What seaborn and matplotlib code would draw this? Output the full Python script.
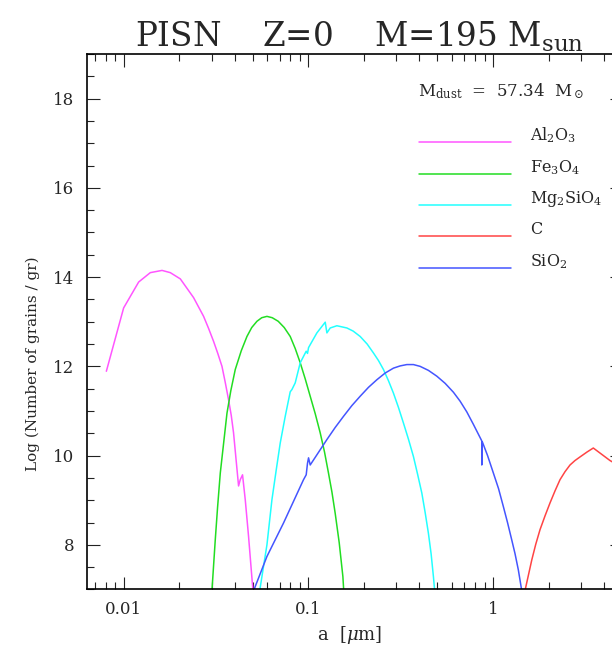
import numpy as np
import pandas as pd
import matplotlib
matplotlib.use("Agg")
import matplotlib.pyplot as plt
import seaborn as sns
from matplotlib.ticker import LogLocator, NullFormatter, MultipleLocator

# Grain size distributions, PISN with Z=0 and M=195 Msun
# grain radius a [micron] and log10(number of grains per gram) for each species
al2o3_a = [0.00806, 0.0100, 0.01206, 0.01394, 0.01614, 0.01789, 0.02027, 0.02392,
           0.02710, 0.02884, 0.03069, 0.03234, 0.03408, 0.03550, 0.03700, 0.03826,
           0.03937, 0.04191, 0.04280, 0.04404, 0.04556, 0.04747, 0.05013]
al2o3_n = [11.89, 13.31, 13.89, 14.10, 14.15, 14.10, 13.96, 13.54,
           13.12, 12.85, 12.56, 12.29, 12.00, 11.64, 11.25, 10.90,
           10.51, 9.32, 9.46, 9.57, 9.01, 8.19, 6.98]

fe3o4_a = [0.03008, 0.03134, 0.03227, 0.03337, 0.03627, 0.03803, 0.04022, 0.04335,
           0.04653, 0.04939, 0.05271, 0.05596, 0.05970, 0.06378, 0.06873, 0.07406,
           0.07981, 0.08494, 0.09041, 0.09621, 0.1024, 0.1090, 0.1160, 0.1224,
           0.1286, 0.1343, 0.1398, 0.1470, 0.1539, 0.1555]
fe3o4_n = [6.98, 8.11, 8.85, 9.61, 10.95, 11.45, 11.93, 12.35,
           12.67, 12.87, 13.01, 13.09, 13.12, 13.09, 13.01, 12.87,
           12.67, 12.40, 12.08, 11.72, 11.33, 10.94, 10.51, 10.08,
           9.61, 9.18, 8.71, 8.05, 7.29, 6.98]

mg2sio4_a = [0.05458, 0.05970, 0.06353, 0.06704, 0.07045, 0.07499, 0.07981, 0.08152,
             0.08494, 0.09041, 0.09741, 0.09901, 0.1003, 0.1113, 0.1235, 0.1261,
             0.1314, 0.1428, 0.1618, 0.1750, 0.1909, 0.2083, 0.2253, 0.2399,
             0.2552, 0.2716, 0.2891, 0.3077, 0.3275, 0.3485, 0.3709, 0.3908,
             0.4119, 0.4291, 0.4471, 0.4624, 0.4759, 0.4831]
mg2sio4_n = [6.98, 8.00, 9.01, 9.68, 10.28, 10.88, 11.43, 11.48,
             11.63, 12.08, 12.34, 12.29, 12.42, 12.75, 12.99, 12.75,
             12.86, 12.91, 12.86, 12.79, 12.67, 12.50, 12.30, 12.13,
             11.93, 11.68, 11.40, 11.08, 10.73, 10.37, 9.98, 9.58,
             9.16, 8.73, 8.26, 7.80, 7.29, 6.98]

c_a = [1.492, 1.622, 1.704, 1.798, 1.914, 2.037, 2.168, 2.307, 2.456, 2.614,
       2.782, 2.960, 3.230, 3.494, 4.302, 4.6]
c_n = [6.98, 7.66, 8.01, 8.34, 8.65, 8.94, 9.21, 9.46, 9.64, 9.79,
       9.89, 9.97, 10.08, 10.17, 9.89, 9.82]

sio2_a = [0.05063, 0.05970, 0.07342, 0.09419, 0.09741, 0.09901, 0.1003, 0.1024,
          0.1261, 0.1398, 0.1551, 0.1721, 0.1909, 0.2118, 0.2351, 0.2607,
          0.2891, 0.3143, 0.3416, 0.3709, 0.4032, 0.4471, 0.4965, 0.5506,
          0.6107, 0.6637, 0.7215, 0.7834, 0.8697, 0.8697, 0.8755, 0.9350,
          1.005, 1.072, 1.138, 1.199, 1.264, 1.317, 1.372, 1.431]
sio2_n = [6.98, 7.74, 8.49, 9.46, 9.57, 9.83, 9.95, 9.79,
          10.36, 10.63, 10.88, 11.12, 11.33, 11.53, 11.70, 11.85,
          11.96, 12.01, 12.04, 12.04, 12.00, 11.91, 11.78, 11.62,
          11.42, 11.22, 10.98, 10.70, 10.33, 9.79, 10.31, 10.00,
          9.61, 9.26, 8.86, 8.50, 8.11, 7.80, 7.44, 6.98]

species = ["Al2O3", "Fe3O4", "Mg2SiO4", "C", "SiO2"]
labels = [r"Al$_2$O$_3$", r"Fe$_3$O$_4$", r"Mg$_2$SiO$_4$", "C", r"SiO$_2$"]
colors = ["#ff55ff", "#22dd22", "#22ffff", "#ff4444", "#4455ff"]
m_dust = 57.34

series = {
    "Al2O3": (al2o3_a, al2o3_n),
    "Fe3O4": (fe3o4_a, fe3o4_n),
    "Mg2SiO4": (mg2sio4_a, mg2sio4_n),
    "C": (c_a, c_n),
    "SiO2": (sio2_a, sio2_n),
}
df = pd.concat(
    [pd.DataFrame({"a": a, "logN": n, "species": k}) for k, (a, n) in series.items()],
    ignore_index=True,
)

sns.set_style("ticks")
plt.rcParams.update({
    "font.family": ["DejaVu Serif"],
    "mathtext.fontset": "dejavuserif",
    "axes.linewidth": 1.2,
    "axes.edgecolor": "black",
})

fig = plt.figure(figsize=(6.12, 6.48), dpi=100)
ax = fig.add_axes([0.1417, 0.0903, 0.8747, 0.8264])

sns.lineplot(data=df, x="a", y="logN", hue="species", hue_order=species,
             palette=dict(zip(species, colors)), sort=False, estimator=None,
             legend=False, linewidth=1.1, ax=ax)

ax.set_xscale("log")
ax.set_xlim(0.00631, 5.0)
ax.set_ylim(7, 19)

ax.set_xticks([0.01, 0.1, 1])
ax.set_xticklabels(["0.01", "0.1", "1"])
ax.xaxis.set_minor_locator(LogLocator(base=10, subs=np.arange(2, 10)))
ax.xaxis.set_minor_formatter(NullFormatter())
ax.yaxis.set_major_locator(MultipleLocator(2))
ax.yaxis.set_minor_locator(MultipleLocator(0.5))
ax.tick_params(which="both", direction="in", top=True, right=True,
               color="#222222", width=0.8, labelsize=12)
ax.tick_params(which="major", length=9)
ax.tick_params(which="minor", length=4.7)
ax.tick_params(axis="y", pad=9)
ax.tick_params(axis="x", pad=8)

ax.set_xlabel(r"a  [$\mu$m]", fontsize=13)
ax.set_ylabel("Log (Number of grains / gr)", fontsize=11)
ax.xaxis.set_label_coords(0.492, -0.065)
ax.yaxis.set_label_coords(-0.087, 0.422)

# key: dust mass and one short line per species
ax.text(0.619, 0.9205, r"M$_{\rm dust}$  =  " + f"{m_dust:.2f}" + r"  M$_\odot$",
        transform=ax.transAxes, fontsize=12, va="baseline", ha="left")
key_y = [0.8355, 0.7764, 0.7184, 0.6605, 0.6012]
for y, lab, col in zip(key_y, labels, colors):
    ax.plot([0.621, 0.7925], [y, y], color=col, lw=1.1, transform=ax.transAxes)
    ax.text(0.8279, y + 0.003, lab, transform=ax.transAxes, fontsize=11.5,
            va="baseline", ha="left")

fig.text(359 / 612, 1 - 37 / 648, r"PISN    Z=0    M=195 M$_{\rm sun}$",
         ha="center", va="center", fontsize=23.5)

fig.savefig("out.png", dpi=100)
